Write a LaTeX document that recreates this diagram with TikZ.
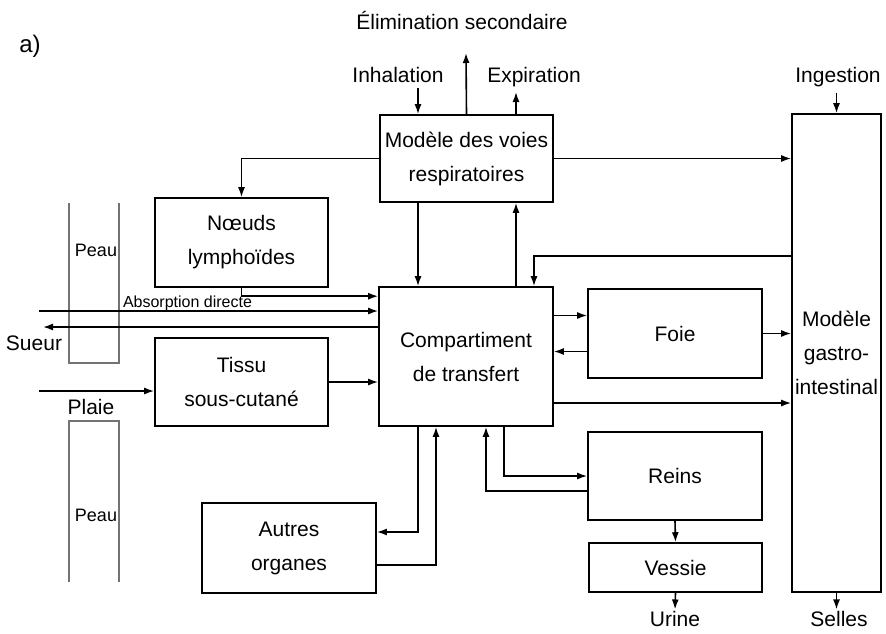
\documentclass[tikz,border=0pt]{standalone}
\usepackage{fontspec}
\setmainfont{Liberation Sans}
\usetikzlibrary{arrows.meta}
\usetikzlibrary{calc}

\begin{document}
\begin{tikzpicture}[x=1pt,y=-1pt,->,>={Latex[length=10pt,width=7pt]},line width=1.6pt,
        font=\fontsize{21}{34}\selectfont,
        box/.style={draw,rectangle,-,align=center,inner sep=0,minimum width=173pt,minimum height=88pt},
        lbl/.style={inner sep=1pt,text height=15pt,text depth=4.5pt},
        small/.style={inner sep=1pt},
        peau/.style={-,draw=black!55,line width=1.3pt}]
  \useasboundingbox (0,0) rectangle (886,633);
  % boxes
  \node[box,minimum height=87pt] (resp) at (466.5,158.5) {Modèle des voies\\respiratoires};
  \node[box,minimum height=89pt] (lymph) at (241.5,242.5) {Nœuds\\lymphoïdes};
  \node[box,minimum width=174pt,minimum height=139pt] (comp) at (466,356.5) {Compartiment\\de transfert};
  \node[box] (tissu) at (241.5,382) {Tissu\\sous-cutané};
  \node[box,minimum width=174pt,minimum height=89pt] (foie) at (675,333.5) {Foie};
  \node[box,minimum width=174pt] (reins) at (675,476) {Reins};
  \node[box,minimum height=49pt] (vessie) at (675.5,567.5) {Vessie};
  \node[box,minimum width=174pt,minimum height=90pt] (autres) at (289,548) {Autres\\organes};
  \node[box,minimum width=89pt,minimum height=478pt] (gi) at (836.5,353) {Modèle\\gastro-\\intestinal};
  % labels
  \node[lbl,font=\fontsize{24}{28}\selectfont] (a) at (30,47) {a)};
  \node[lbl] (elim) at (462,24) {Élimination secondaire};
  \node[lbl] (inhal) at (398,77) {Inhalation};
  \node[lbl] (expir) at (534,77) {Expiration};
  \node[lbl] (ingest) at (838,77) {Ingestion};
  \node[lbl] (selles) at (839,621) {Selles};
  \node[lbl] (urine) at (675,621) {Urine};
  \node[lbl] (sueur) at (34,345) {Sueur};
  \node[lbl] (plaie) at (91,409) {Plaie};
  \node[small,font=\fontsize{18}{20}\selectfont] (peau1) at (96,250) {Peau};
  \node[small,font=\fontsize{18}{20}\selectfont] (peau2) at (96,515) {Peau};
  \node[small,font=\fontsize{16}{18}\selectfont] (absorb) at (187.5,303) {Absorption directe};
  % skin
  \draw[peau] (69,203) -- (69,363) -- (119,363) -- (119,203);
  \draw[peau] (69,582) -- (69,421) -- (119,421) -- (119,582);
  % free ends
  \coordinate (inhal0) at (418,88);
  \coordinate (elim0) at (466,53);
  \coordinate (expir0) at (516,92);
  \coordinate (absin) at (39,311);
  \coordinate (sueurout) at (43,327);
  \coordinate (plaiein) at (39,391);
  \coordinate (gicomp) at (534,256);
  \coordinate (foiein) at ($(foie.west)+(0,-18)$);
  \coordinate (foieout) at ($(foie.west)+(0,18)$);
  \coordinate (compgi) at ($(comp.east)+(0,46.5)$);
  % connectors
  \draw (inhal0) -- (inhal0 |- resp.north);
  \draw (resp.north) -- (elim0);
  \draw (resp.north -| expir0) -- (expir0);
  \draw[shorten <=4pt] (gi.north |- ingest.south) -- (gi.north);
  \draw (gi.south) -- (gi.south |- selles.north);
  \draw (resp.east) -- (resp.east -| gi.west);
  \draw (resp.west) -| (lymph.north);
  \draw (resp.south -| inhal0) -- (comp.north -| inhal0);
  \draw (comp.north -| expir0) -- (resp.south -| expir0);
  \draw (gi.west |- gicomp) -| (gicomp |- comp.north);
  \draw (lymph.south) |- ([yshift=-10pt]comp.north west);
  \draw (absin) -- (absin -| comp.west);
  \draw (sueurout -| comp.west) -- (sueurout);
  \draw (plaiein) -- (plaiein -| tissu.west);
  \draw (tissu.east) -- (tissu.east -| comp.west);
  \draw (comp.east |- foiein) -- (foiein);
  \draw (foieout) -- (comp.east |- foieout);
  \draw (foie.east) -- (foie.east -| gi.west);
  \draw (compgi) -- (compgi -| gi.west);
  \draw ($(comp.south)+(38,0)$) |- (reins.west);
  \draw ($(reins.west)+(0,15)$) -| ($(comp.south)+(20,0)$);
  \draw ($(comp.south)+(-48,0)$) |- ($(autres.east)+(0,-16)$);
  \draw ($(autres.east)+(0,17)$) -| ($(comp.south)+(-30,0)$);
  \draw (reins.south) -- (vessie.north);
  \draw (vessie.south) -- (urine.north);
\end{tikzpicture}
\end{document}
